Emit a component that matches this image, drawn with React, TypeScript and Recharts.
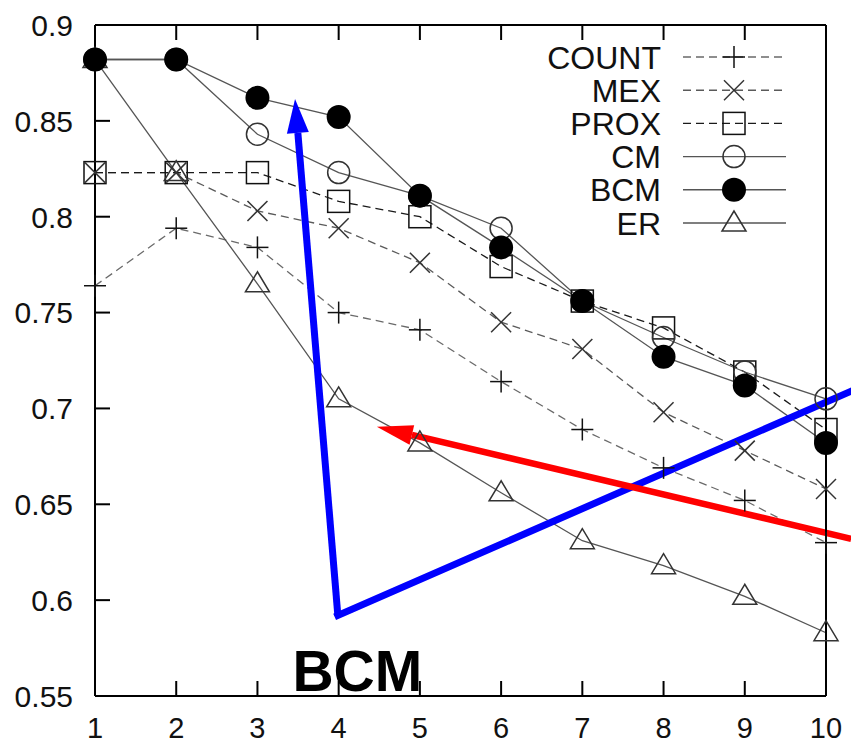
import React from "react";
import { LineChart, Line, XAxis, YAxis, Legend, ReferenceLine, ReferenceDot } from "recharts";

// k (x axis) values
const K_VALUES = [1, 2, 3, 4, 5, 6, 7, 8, 9, 10];
const COUNT = [0.764, 0.794, 0.784, 0.75, 0.741, 0.714, 0.689, 0.669, 0.652, 0.63];
const MEX = [0.823, 0.823, 0.803, 0.794, 0.776, 0.745, 0.731, 0.698, 0.678, 0.658];
const PROX = [0.823, 0.823, 0.823, 0.808, 0.8, 0.774, 0.756, 0.742, 0.719, 0.689];
const CM = [0.882, 0.882, 0.843, 0.823, 0.811, 0.794, 0.756, 0.737, 0.719, 0.705];
const BCM = [0.882, 0.882, 0.862, 0.852, 0.811, 0.784, 0.756, 0.727, 0.712, 0.682];
const ER = [0.882, 0.823, 0.765, 0.705, 0.682, 0.656, 0.631, 0.618, 0.602, 0.583];

const X_TICKS = K_VALUES;
const Y_TICKS = [0.55, 0.6, 0.65, 0.7, 0.75, 0.8, 0.85, 0.9];
const Y_LABELS = ["0.55", "0.6", "0.65", "0.7", "0.75", "0.8", "0.85", "0.9"];

// hand-drawn annotations, in data coordinates
const BLUE_TIP = { x: 3.463, y: 0.8614 };
const BLUE_CORNER = { x: 3.99, y: 0.592 };
const BLUE_END = { x: 10.31, y: 0.709 };
const RED_START = { x: 10.31, y: 0.632 };
const RED_TIP = { x: 4.47, y: 0.6905 };
const NOTE_POS = { x: 4.23, y: 0.5526 };
const NOTE_TEXT = "BCM";

const FONT = "'Liberation Sans', Arimo, Helvetica, Arial, sans-serif";

type Kind = "plus" | "cross" | "square" | "circle" | "disc" | "triangle";

const SERIES: { key: string; data: number[]; kind: Kind; stroke: string; dash?: string }[] = [
  { key: "COUNT", data: COUNT, kind: "plus", stroke: "#6a6a6a", dash: "8 5" },
  { key: "MEX", data: MEX, kind: "cross", stroke: "#5a5a5a", dash: "8 5" },
  { key: "PROX", data: PROX, kind: "square", stroke: "#1a1a1a", dash: "8 5" },
  { key: "CM", data: CM, kind: "circle", stroke: "#555" },
  { key: "BCM", data: BCM, kind: "disc", stroke: "#555" },
  { key: "ER", data: ER, kind: "triangle", stroke: "#555" },
];
// draw order: filled discs last so they sit on top
const DRAW_ORDER = ["COUNT", "MEX", "PROX", "CM", "ER", "BCM"];

const rows = K_VALUES.map((k, i) => {
  const row: Record<string, number> = { k };
  SERIES.forEach((s) => (row[s.key] = s.data[i]));
  return row;
});

function Marker({ kind, cx, cy }: { kind: Kind; cx: number; cy: number }) {
  if (cx == null || cy == null) return null;
  const sw = 1.5;
  switch (kind) {
    case "plus":
      return (
        <g stroke="#111" strokeWidth={sw}>
          <line x1={cx - 11} y1={cy} x2={cx + 11} y2={cy} />
          <line x1={cx} y1={cy - 11} x2={cx} y2={cy + 11} />
        </g>
      );
    case "cross":
      return (
        <g stroke="#333" strokeWidth={sw}>
          <line x1={cx - 10} y1={cy - 10} x2={cx + 10} y2={cy + 10} />
          <line x1={cx - 10} y1={cy + 10} x2={cx + 10} y2={cy - 10} />
        </g>
      );
    case "square":
      return <rect x={cx - 11} y={cy - 11} width={22} height={22} fill="none" stroke="#111" strokeWidth={sw} />;
    case "circle":
      return <circle cx={cx} cy={cy} r={11} fill="none" stroke="#333" strokeWidth={sw} />;
    case "disc":
      return <circle cx={cx} cy={cy} r={12} fill="#000" />;
    case "triangle":
      return (
        <polygon
          points={`${cx},${cy - 12} ${cx - 12},${cy + 8} ${cx + 12},${cy + 8}`}
          fill="none"
          stroke="#333"
          strokeWidth={sw}
        />
      );
  }
  return null;
}

function Arrow(props: any) {
  const { x1, y1, x2, y2, color, width, head, half } = props;
  const dx = x2 - x1;
  const dy = y2 - y1;
  const len = Math.sqrt(dx * dx + dy * dy) || 1;
  const ux = dx / len;
  const uy = dy / len;
  const bx = x2 - ux * head;
  const by = y2 - uy * head;
  const px = -uy * half;
  const py = ux * half;
  return (
    <g>
      <line x1={x1} y1={y1} x2={bx} y2={by} stroke={color} strokeWidth={width} />
      <polygon points={`${x2},${y2} ${bx + px},${by + py} ${bx - px},${by - py}`} fill={color} />
    </g>
  );
}

function BottomTick(props: any) {
  const { x, y, payload } = props;
  return (
    <g>
      <line x1={x} y1={y} x2={x} y2={y - 15} stroke="#000" strokeWidth={2} />
      <text x={x} y={y + 42} textAnchor="middle" fontFamily={FONT} fontSize={29} fill="#111">
        {payload.value}
      </text>
    </g>
  );
}

function TopTick(props: any) {
  const { x, y } = props;
  return <line x1={x} y1={y} x2={x} y2={y + 15} stroke="#000" strokeWidth={2} />;
}

function LeftTick(props: any) {
  const { x, y, payload } = props;
  const idx = Y_TICKS.indexOf(payload.value);
  return (
    <g>
      <line x1={x} y1={y} x2={x + 15} y2={y} stroke="#000" strokeWidth={2} />
      <text x={x - 22} y={y} dy="0.36em" textAnchor="end" fontFamily={FONT} fontSize={30} fill="#111">
        {idx >= 0 ? Y_LABELS[idx] : payload.value}
      </text>
    </g>
  );
}

function RightTick(props: any) {
  const { x, y } = props;
  return <line x1={x} y1={y} x2={x - 15} y2={y} stroke="#000" strokeWidth={2} />;
}

function LegendBox() {
  return (
    <svg width={851} height={250} style={{ display: "block" }}>
      {SERIES.map((s, i) => {
        const y = 57 + i * 33.2;
        return (
          <g key={s.key}>
            <text x={661} y={y} dy="0.36em" textAnchor="end" fontFamily={FONT} fontSize={32} fill="#111">
              {s.key}
            </text>
            <line x1={683} y1={y} x2={786} y2={y} stroke={s.stroke} strokeWidth={1.4} strokeDasharray={s.dash} />
            <Marker kind={s.kind} cx={734} cy={y} />
          </g>
        );
      })}
    </svg>
  );
}

export default function App() {
  const ordered = DRAW_ORDER.map((k) => SERIES.find((s) => s.key === k)!);
  return (
    <div style={{ position: "absolute", left: 0, top: 0, width: 851, height: 744, background: "#fff" }}>
      <LineChart width={851} height={744} data={rows} margin={{ top: 0, right: 0, bottom: 0, left: 0 }}>
        <XAxis
          xAxisId="b"
          dataKey="k"
          type="number"
          domain={[1, 10]}
          ticks={X_TICKS}
          height={48}
          tickSize={0}
          tickMargin={0}
          tickLine={false}
          axisLine={{ stroke: "#000", strokeWidth: 2 }}
          tick={<BottomTick />}
          interval={0}
        />
        <XAxis
          xAxisId="t"
          orientation="top"
          type="number"
          domain={[1, 10]}
          ticks={X_TICKS}
          height={25}
          tickSize={0}
          tickMargin={0}
          tickLine={false}
          axisLine={{ stroke: "#000", strokeWidth: 2 }}
          tick={<TopTick />}
          interval={0}
        />
        <YAxis
          yAxisId="l"
          type="number"
          domain={[0.55, 0.9]}
          ticks={Y_TICKS}
          width={95}
          tickSize={0}
          tickMargin={0}
          tickLine={false}
          axisLine={{ stroke: "#000", strokeWidth: 2 }}
          tick={<LeftTick />}
          interval={0}
        />
        <YAxis
          yAxisId="r"
          orientation="right"
          type="number"
          domain={[0.55, 0.9]}
          ticks={Y_TICKS}
          width={25}
          tickSize={0}
          tickMargin={0}
          tickLine={false}
          axisLine={{ stroke: "#000", strokeWidth: 2 }}
          tick={<RightTick />}
          interval={0}
        />
        <Legend
          layout="vertical"
          align="center"
          verticalAlign="middle"
          wrapperStyle={{ position: "absolute", left: 0, top: 0, width: 851, height: 250 }}
          content={() => <LegendBox />}
        />
        {ordered.map((s) => (
          <Line
            key={s.key}
            xAxisId="b"
            yAxisId="l"
            dataKey={s.key}
            type="linear"
            stroke={s.stroke}
            strokeWidth={1.3}
            strokeDasharray={s.dash}
            dot={(p: any) => <Marker key={`${s.key}-${p.index}`} kind={s.kind} cx={p.cx} cy={p.cy} />}
            activeDot={false}
            isAnimationActive={false}
          />
        ))}
        <ReferenceLine
          xAxisId="b"
          yAxisId="l"
          ifOverflow="visible"
          segment={[BLUE_CORNER, BLUE_END]}
          shape={(p: any) => (
            <line x1={p.x1} y1={p.y1} x2={p.x2} y2={p.y2} stroke="#0000ff" strokeWidth={7} strokeLinecap="square" />
          )}
        />
        <ReferenceLine
          xAxisId="b"
          yAxisId="l"
          ifOverflow="visible"
          segment={[BLUE_CORNER, BLUE_TIP]}
          shape={(p: any) => <Arrow {...p} color="#0000ff" width={7} head={34} half={11} />}
        />
        <ReferenceLine
          xAxisId="b"
          yAxisId="l"
          ifOverflow="visible"
          segment={[RED_START, RED_TIP]}
          shape={(p: any) => <Arrow {...p} color="#ff0000" width={6.5} head={36} half={10} />}
        />
        <ReferenceDot
          xAxisId="b"
          yAxisId="l"
          x={NOTE_POS.x}
          y={NOTE_POS.y}
          ifOverflow="visible"
          shape={(p: any) => (
            <text
              x={p.cx}
              y={p.cy}
              textAnchor="middle"
              fontFamily={FONT}
              fontWeight="bold"
              fontSize={57}
              fill="#000"
              stroke="#fff"
              strokeWidth={4}
              paintOrder="stroke"
            >
              {NOTE_TEXT}
            </text>
          )}
        />
      </LineChart>
    </div>
  );
}
